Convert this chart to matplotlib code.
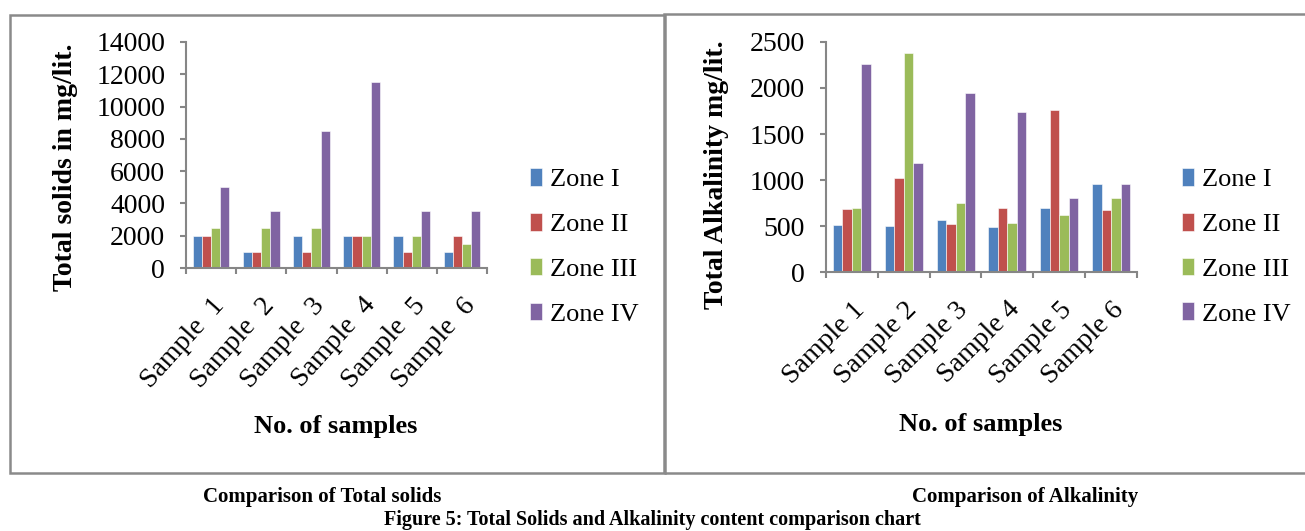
import numpy as np
import matplotlib
matplotlib.use("Agg")
import matplotlib.pyplot as plt
import matplotlib.transforms as mtransforms
from matplotlib.patches import Rectangle

plt.rcParams['font.family'] = ['Liberation Serif', 'DejaVu Serif']

# Sample names and zones
samples_ts = ["Sample  1", "Sample  2", "Sample  3", "Sample  4", "Sample  5", "Sample  6"]
samples_alk = ["Sample 1", "Sample 2", "Sample 3", "Sample 4", "Sample 5", "Sample 6"]
zones = ["Zone I", "Zone II", "Zone III", "Zone IV"]
colors = ["#4F81BD", "#C0504D", "#9BBB59", "#8064A2"]

# Total solids (mg/lit.), one list per zone
ts_zone1 = [2000, 1000, 2000, 2000, 2000, 1000]
ts_zone2 = [2000, 1000, 1000, 2000, 1000, 2000]
ts_zone3 = [2500, 2500, 2500, 2000, 2000, 1500]
ts_zone4 = [5000, 3500, 8500, 11500, 3500, 3500]

# Total alkalinity (mg/lit.), one list per zone
alk_zone1 = [510, 500, 570, 490, 695, 955]
alk_zone2 = [680, 1020, 520, 695, 1765, 670]
alk_zone3 = [700, 2375, 750, 535, 615, 805]
alk_zone4 = [2265, 1190, 1945, 1740, 800, 955]

W, H = 1305, 531
fig = plt.figure(figsize=(W / 100, H / 100), dpi=100)
GRAY = "#868686"


def px_axes(x0, x1, ytop, ybot):
    return fig.add_axes([x0 / W, (H - ybot) / H, (x1 - x0) / W, (ybot - ytop) / H])


def bar_chart(ax, names, series, ymax, step, rot, dx, dy):
    x = np.arange(len(names))
    bw = 0.183
    for i, (vals, c) in enumerate(zip(series, colors)):
        ax.bar(x + (i - 1.5) * bw, vals, bw, color=c, edgecolor="white",
               linewidth=0.4, label=zones[i])
    ax.set_xlim(-0.5, len(names) - 0.5)
    ax.set_ylim(0, ymax)
    ax.set_yticks(np.arange(0, ymax + 1, step))
    # ticks sit between the categories, labels at the centres
    ax.set_xticks(np.arange(-0.5, len(names)))
    ax.set_xticklabels([])
    ax.set_xticks(x, minor=True)
    labels = ax.set_xticklabels(names, minor=True, rotation=rot, ha="right", va="top",
                                rotation_mode="anchor", fontsize=20)
    shift = mtransforms.ScaledTranslation(dx / 100, -dy / 100, fig.dpi_scale_trans)
    for lab in labels:
        lab.set_transform(lab.get_transform() + shift)
    ax.tick_params(axis="x", which="minor", length=0, pad=18)
    ax.tick_params(axis="x", which="major", length=4, width=1.5, color=GRAY, direction="out")
    ax.tick_params(axis="y", length=4, width=1.5, color=GRAY, labelsize=20, pad=11)
    for s in ["top", "right"]:
        ax.spines[s].set_visible(False)
    for s in ["left", "bottom"]:
        ax.spines[s].set_color(GRAY)
        ax.spines[s].set_linewidth(1.5)
    ax.patch.set_alpha(0)


legend_kw = dict(loc="center left", frameon=False, fontsize=19, handlelength=0.45,
                 handleheight=0.65, handletextpad=0.3, labelspacing=0.82,
                 borderaxespad=0, borderpad=0)

ax1 = px_axes(186, 487, 42, 268)
bar_chart(ax1, samples_ts, [ts_zone1, ts_zone2, ts_zone3, ts_zone4], 14000, 2000,
          rot=48, dx=-6, dy=0)
ax1.legend(bbox_to_anchor=(1.143, 0.093), **legend_kw)

ax2 = px_axes(826, 1137, 42, 272)
bar_chart(ax2, samples_alk, [alk_zone1, alk_zone2, alk_zone3, alk_zone4], 2500, 500,
          rot=45, dx=-9, dy=7)
ax2.legend(bbox_to_anchor=(1.145, 0.109), **legend_kw)

# axis titles
fig.text(65 / W, 1 - 167 / H, "Total solids in mg/lit.", rotation=90, ha="center",
         va="center", fontsize=20, fontweight="bold")
fig.text(717 / W, 1 - 175 / H, "Total Alkalinity mg/lit.", rotation=90, ha="center",
         va="center", fontsize=20, fontweight="bold")
fig.text(336 / W, 1 - 427 / H, "No. of samples", ha="center", va="center",
         fontsize=19, fontweight="bold")
fig.text(981 / W, 1 - 425 / H, "No. of samples", ha="center", va="center",
         fontsize=19, fontweight="bold")

# panel borders
fig.patches.append(Rectangle((10 / W, 1 - 473 / H), 655 / W, 458 / H, fill=False,
                             edgecolor="#8a8a8a", linewidth=1.8, transform=fig.transFigure))
fig.patches.append(Rectangle((664 / W, 1 - 473 / H), 650 / W, 459 / H, fill=False,
                             edgecolor="#8a8a8a", linewidth=1.8, transform=fig.transFigure))

# captions
fig.text(322 / W, 1 - 497 / H, "Comparison of Total solids", ha="center", va="center",
         fontsize=15, fontweight="bold")
fig.text(1025 / W, 1 - 497 / H, "Comparison of Alkalinity", ha="center", va="center",
         fontsize=15, fontweight="bold")
fig.text(652 / W, 1 - 520 / H, "Figure 5: Total Solids and Alkalinity content comparison chart",
         ha="center", va="center", fontsize=14.5, fontweight="bold")

fig.savefig("out.png", dpi=100)
